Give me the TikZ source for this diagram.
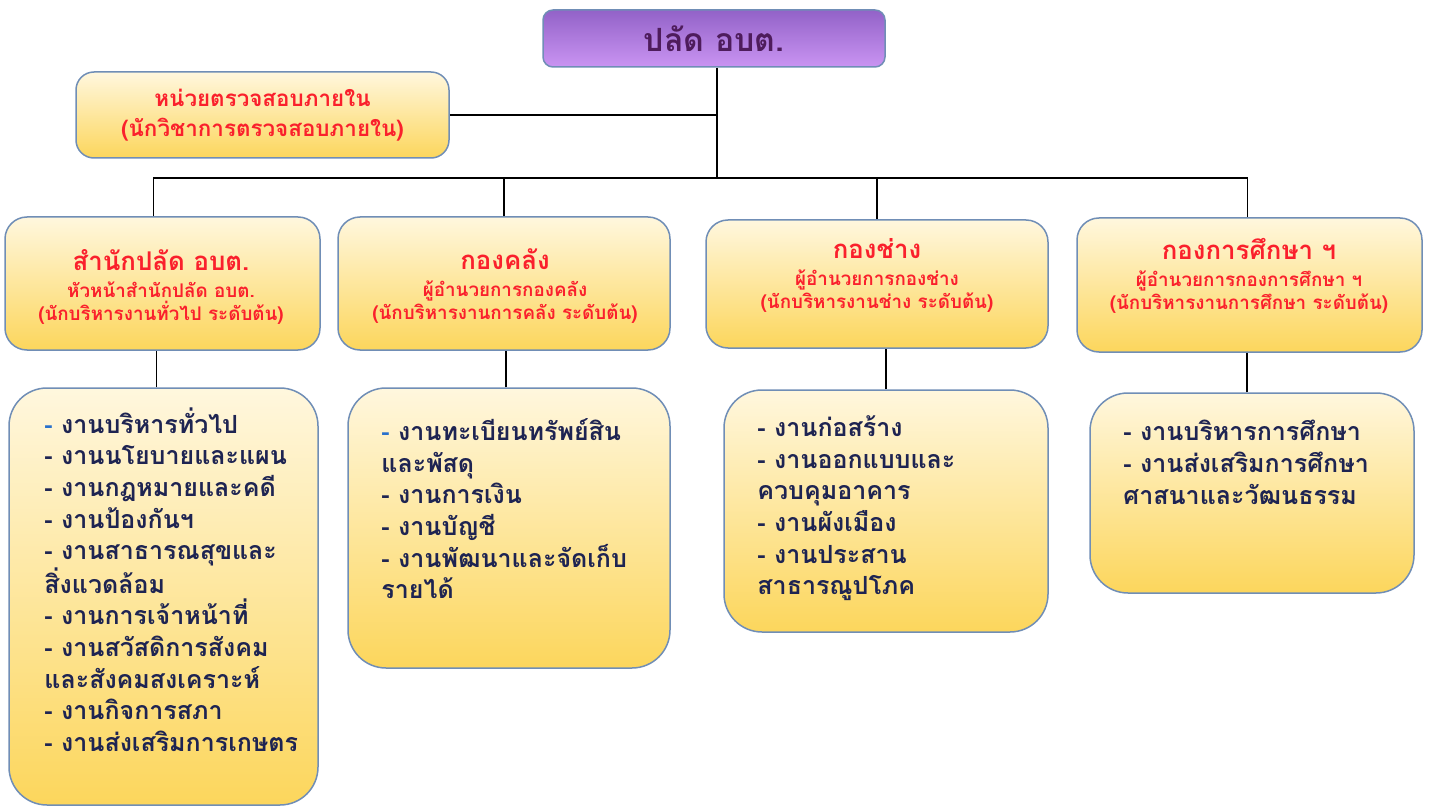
\documentclass[tikz,border=0pt]{standalone}
\usepackage{fontspec}
\newfontfamily\thaifont[Script=Thai]{Loma}
\usepackage{xcolor}
\usepackage{tikz}
\definecolor{purptop}{RGB}{146,98,200}
\definecolor{purpbot}{RGB}{202,148,242}
\definecolor{boxtop}{RGB}{255,247,222}
\definecolor{boxbot}{RGB}{252,214,92}
\definecolor{boxline}{RGB}{112,142,182}
\definecolor{headtext}{RGB}{78,28,92}
\definecolor{unittext}{RGB}{250,32,44}
\definecolor{tasktext}{RGB}{30,36,82}
\definecolor{dashblue}{RGB}{40,112,204}
\tikzstyle{node:box}=[draw=boxline,line width=1.5pt,top color=boxtop,bottom color=boxbot]
\tikzstyle{node:head}=[node:box,rounded corners=10pt,top color=purptop,bottom color=purpbot,text=headtext,font=\thaifont\bfseries\fontsize{32}{40}\selectfont]
\tikzstyle{node:audit}=[node:box,rounded corners=18pt,align=center,text=unittext,font=\thaifont\bfseries\fontsize{22.4}{30}\selectfont]
\tikzstyle{node:unit}=[node:box,rounded corners=22pt]
\tikzstyle{node:tasks}=[node:box,rounded corners=38pt]
\tikzstyle{text:unit}=[align=center,text=unittext,font=\thaifont\bfseries\fontsize{18.8}{23}\selectfont]
\tikzstyle{text:tasks}=[align=left,anchor=north west,inner sep=0pt,text=tasktext,font=\thaifont\bfseries\fontsize{25}{31.7}\selectfont]
\tikzstyle{draw:connection}=[line width=1.8pt,black]
\newcommand{\unithead}[1]{{\fontsize{25.8}{30}\selectfont #1}}
\newcommand{\bluedash}{{\color{dashblue}-}}
\begin{document}
\begin{tikzpicture}[x=1pt,y=-1pt]
        \useasboundingbox (0,0) rectangle (1431,810);

        % Head and internal audit
        \node[node:head,minimum width=342,minimum height=57] (N0) at (714,38.5) {ปลัด อบต.};
        \node[node:audit,minimum width=373,minimum height=86] (audit) at (262.5,115) {หน่วยตรวจสอบภายใน\\(นักวิชาการตรวจสอบภายใน)};

        % Units (4 boxes)
        \node[node:unit,minimum width=315,minimum height=133] (N1-1) at (162.5,283.5) {};
        \node[node:unit,minimum width=332,minimum height=133] (N1-2) at (504,283.5) {};
        \node[node:unit,minimum width=342,minimum height=128] (N1-3) at (877,284) {};
        \node[node:unit,minimum width=345,minimum height=134] (N1-4) at (1249.5,285) {};

        \node[text:unit] (T1-1) at (161,287) {\unithead{สำนักปลัด อบต.}\\[4pt]หัวหน้าสำนักปลัด อบต.\\(นักบริหารงานทั่วไป ระดับต้น)};
        \node[text:unit] (T1-2) at (505,286) {\unithead{กองคลัง}\\[4pt]ผู้อำนวยการกองคลัง\\(นักบริหารงานการคลัง ระดับต้น)};
        \node[text:unit] (T1-3) at (877,275) {\unithead{กองช่าง}\\[4pt]ผู้อำนวยการกองช่าง\\(นักบริหารงานช่าง ระดับต้น)};
        \node[text:unit] (T1-4) at (1249,276) {\unithead{กองการศึกษา ฯ}\\[4pt]ผู้อำนวยการกองการศึกษา ฯ\\(นักบริหารงานการศึกษา ระดับต้น)};

        % Task lists (4 boxes)
        \node[node:tasks,minimum width=309,minimum height=417] (N2-1) at (163.5,596.5) {};
        \node[node:tasks,minimum width=322,minimum height=280] (N2-2) at (509,528) {};
        \node[node:tasks,minimum width=324,minimum height=242] (N2-3) at (886,511) {};
        \node[node:tasks,minimum width=324,minimum height=200] (N2-4) at (1252,493) {};

        \node[text:tasks] (T2-1) at ([shift={(36,20)}]N2-1.north west) {\bluedash{} งานบริหารทั่วไป\\- งานนโยบายและแผน\\- งานกฎหมายและคดี\\- งานป้องกันฯ\\- งานสาธารณสุขและ\\สิ่งแวดล้อม\\- งานการเจ้าหน้าที่\\- งานสวัสดิการสังคม\\และสังคมสงเคราะห์\\- งานกิจการสภา\\- งานส่งเสริมการเกษตร};
        \node[text:tasks] (T2-2) at ([shift={(34,31)}]N2-2.north west) {\bluedash{} งานทะเบียนทรัพย์สิน\\และพัสดุ\\- งานการเงิน\\- งานบัญชี\\- งานพัฒนาและจัดเก็บ\\รายได้};
        \node[text:tasks] (T2-3) at ([shift={(34,26)}]N2-3.north west) {- งานก่อสร้าง\\- งานออกแบบและ\\ควบคุมอาคาร\\- งานผังเมือง\\- งานประสาน\\สาธารณูปโภค};
        \node[text:tasks] (T2-4) at ([shift={(34,28)}]N2-4.north west) {- งานบริหารการศึกษา\\- งานส่งเสริมการศึกษา\\ศาสนาและวัฒนธรรม};

        % Connections
        \coordinate (hub) at (717,178);
        \draw[draw:connection] (N0.south -| hub) -- (hub);
        \draw[draw:connection] (audit.east) -- (audit.east -| hub);
        \draw[draw:connection] ([xshift=-9pt]N1-1.north) -- ([xshift=-9pt]N1-1.north |- hub) -- ([xshift=-2pt]N1-4.north |- hub) -- ([xshift=-2pt]N1-4.north);
        \foreach \i in {2,3} {
                \draw[draw:connection] (N1-\i.north) -- (N1-\i.north |- hub);
            }
        \draw[draw:connection] ([xshift=-7pt]N2-1.north) -- ([xshift=-7pt]N2-1.north |- N1-1.south);
        \draw[draw:connection] ([xshift=-3pt]N2-2.north) -- ([xshift=-3pt]N2-2.north |- N1-2.south);
        \draw[draw:connection] (N2-3.north) -- (N2-3.north |- N1-3.south);
        \draw[draw:connection] ([xshift=-5pt]N2-4.north) -- ([xshift=-5pt]N2-4.north |- N1-4.south);

    \end{tikzpicture}
\end{document}
